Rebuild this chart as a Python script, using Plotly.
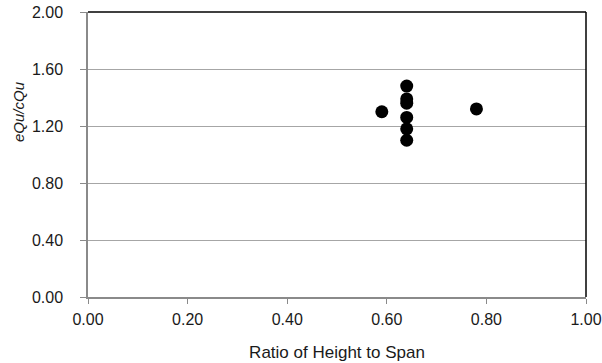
import plotly.graph_objects as go

ratio_height_span = [0.59, 0.64, 0.64, 0.64, 0.64, 0.64, 0.64, 0.78]
equ_cqu = [1.30, 1.48, 1.39, 1.36, 1.26, 1.18, 1.10, 1.32]

x_ticks = [0.0, 0.2, 0.4, 0.6, 0.8, 1.0]
y_ticks = [0.0, 0.4, 0.8, 1.2, 1.6, 2.0]

W, H = 602, 363
L, R, T, B = 88, 16, 12, 66

fig = go.Figure()
fig.add_trace(go.Scatter(
    x=ratio_height_span, y=equ_cqu, mode="markers",
    marker=dict(size=13, color="black"),
    showlegend=False,
))

family = "Liberation Sans, Arial, sans-serif"
tick_font = dict(family=family, size=16, color="#1a1a1a")
title_font = dict(family=family, size=17, color="#1a1a1a")

fig.update_layout(
    width=W, height=H,
    margin=dict(l=L, r=R, t=T, b=B, autoexpand=False),
    paper_bgcolor="white", plot_bgcolor="white",
    font=tick_font,
    xaxis=dict(
        range=[0, 1], tickvals=x_ticks, ticktext=[f"{v:.2f}" for v in x_ticks],
        showgrid=False, zeroline=False, automargin=False,
        showline=True, linecolor="#8a8a8a", linewidth=1.5,
        ticks="outside", ticklen=5, tickcolor="#8a8a8a", tickwidth=1,
        ticklabelstandoff=2, tickfont=tick_font,
        title=dict(text="Ratio of Height to Span", font=title_font, standoff=19),
    ),
    yaxis=dict(
        range=[0, 2], tickvals=y_ticks, ticktext=[f"{v:.2f}" for v in y_ticks],
        showgrid=True, gridcolor="#a6a6a6", gridwidth=1, zeroline=False,
        automargin=False,
        showline=True, linecolor="#8a8a8a", linewidth=1.5,
        ticks="outside", ticklen=6, tickcolor="#8a8a8a", tickwidth=1,
        ticklabelstandoff=14, tickfont=tick_font,
    ),
    annotations=[
        dict(text="<i>eQu/cQu</i>", xref="paper", yref="paper",
             x=(18 - L) / (W - L - R), y=1 - (112 - T) / (H - T - B),
             xanchor="center", yanchor="middle", textangle=-90,
             showarrow=False, font=dict(family=family, size=15, color="#1a1a1a")),
    ],
    shapes=[
        dict(type="line", xref="paper", yref="paper", x0=0, x1=1, y0=1, y1=1,
             line=dict(color="black", width=1.5)),
        dict(type="line", xref="paper", yref="paper", x0=1, x1=1, y0=0, y1=1,
             line=dict(color="black", width=1.5)),
    ],
)

fig.write_html("out.html")
